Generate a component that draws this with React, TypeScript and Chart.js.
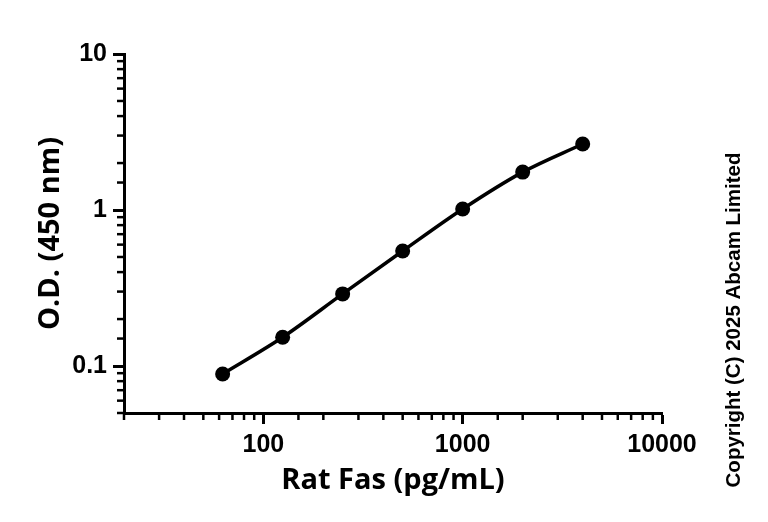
import React, { useEffect, useRef } from 'react';
import { Chart, registerables } from 'chart.js';

Chart.register(...registerables);

// ---- data ----
const concentrations = [62.5, 125, 250, 500, 1000, 2000, 4000];
const odValues = [0.089, 0.153, 0.29, 0.546, 1.015, 1.75, 2.65];
const xTickLabels = ['100', '1000', '10000'];
const yTickLabels = ['0.1', '1', '10'];
const xTitle = 'Rat Fas (pg/mL)';
const yTitle = 'O.D. (450 nm)';
const copyrightText = 'Copyright (C) 2025 Abcam Limited';

const isDecade = (v: number) => Math.abs(Math.log10(v) - Math.round(Math.log10(v))) < 1e-6;
const labelFor = (labels: string[], v: number) =>
  labels.find((l) => Math.abs(Number(l) - v) < 1e-9 * Math.max(1, v)) ?? '';

const TICK_FONT = { family: "'Liberation Sans', Arial, sans-serif", size: 25, weight: 'bold' as const };
const TITLE_FONT = "bold 29px 'Open Sans', 'Liberation Sans', sans-serif";

const minorTicksPlugin = {
  id: 'minorTicks',
  afterDraw(chart: any) {
    const ctx = chart.ctx;
    ctx.save();
    ctx.strokeStyle = '#000';
    ctx.lineWidth = 2.5;
    const xs = chart.scales.x;
    const ys = chart.scales.y;
    xs.ticks.forEach((t: any) => {
      if (isDecade(t.value)) return;
      const px = xs.getPixelForValue(t.value);
      ctx.beginPath();
      ctx.moveTo(px, xs.top);
      ctx.lineTo(px, xs.top + 7);
      ctx.stroke();
    });
    ys.ticks.forEach((t: any) => {
      if (isDecade(t.value)) return;
      const py = ys.getPixelForValue(t.value);
      ctx.beginPath();
      ctx.moveTo(ys.right, py);
      ctx.lineTo(ys.right - 7, py);
      ctx.stroke();
    });
    ctx.restore();
  },
};

const textPlugin = {
  id: 'texts',
  afterDraw(chart: any) {
    const ctx = chart.ctx;
    const area = chart.chartArea;
    ctx.save();
    ctx.fillStyle = '#000';
    ctx.textAlign = 'center';
    ctx.textBaseline = 'middle';
    ctx.font = TITLE_FONT;
    ctx.fillText(xTitle, (area.left + area.right) / 2, 481);
    ctx.save();
    ctx.translate(51, (area.top + area.bottom) / 2);
    ctx.rotate(-Math.PI / 2);
    ctx.fillText(yTitle, 0, 0);
    ctx.restore();
    ctx.save();
    ctx.font = "bold 20.5px 'Liberation Sans', Arial, sans-serif";
    ctx.translate(734, 320);
    ctx.rotate(-Math.PI / 2);
    ctx.fillText(copyrightText, 0, 0);
    ctx.restore();
    ctx.restore();
  },
};

export default function App() {
  const canvasRef = useRef<HTMLCanvasElement | null>(null);

  useEffect(() => {
    if (!canvasRef.current) return;
    const chart = new Chart(canvasRef.current, {
      type: 'line',
      data: {
        datasets: [
          {
            data: concentrations.map((c, i) => ({ x: c, y: odValues[i] })),
            borderColor: '#000',
            backgroundColor: '#000',
            borderWidth: 3.5,
            pointRadius: 7.5,
            pointBackgroundColor: '#000',
            pointBorderWidth: 0,
            cubicInterpolationMode: 'monotone',
            fill: false,
          },
        ],
      },
      options: {
        animation: false,
        responsive: false,
        devicePixelRatio: 1,
        layout: { padding: { left: 0, top: 54, right: 106, bottom: 0 } },
        plugins: { legend: { display: false }, tooltip: { enabled: false } },
        scales: {
          x: {
            type: 'logarithmic',
            min: 20,
            max: 10000,
            afterFit: (s: any) => {
              s.height = 109;
            },
            border: { display: true, color: '#000', width: 3 },
            grid: {
              drawOnChartArea: false,
              drawTicks: true,
              tickLength: 11,
              tickWidth: 3,
              tickColor: (c: any) => (c.tick && isDecade(c.tick.value) ? '#000' : 'rgba(0,0,0,0)'),
            },
            ticks: {
              autoSkip: false,
              maxRotation: 0,
              color: '#000',
              padding: 6,
              font: TICK_FONT,
              callback: (v: any) => (isDecade(Number(v)) ? labelFor(xTickLabels, Number(v)) : ''),
            },
          },
          y: {
            type: 'logarithmic',
            min: 0.05,
            max: 10,
            afterFit: (s: any) => {
              s.width = 124;
            },
            border: { display: true, color: '#000', width: 3 },
            grid: {
              drawOnChartArea: false,
              drawTicks: true,
              tickLength: 11,
              tickWidth: 3,
              tickColor: (c: any) => (c.tick && isDecade(c.tick.value) ? '#000' : 'rgba(0,0,0,0)'),
            },
            ticks: {
              autoSkip: false,
              color: '#000',
              padding: 6,
              font: TICK_FONT,
              callback: (v: any) => (isDecade(Number(v)) ? labelFor(yTickLabels, Number(v)) : ''),
            },
          },
        },
      },
      plugins: [minorTicksPlugin, textPlugin],
    });
    return () => chart.destroy();
  }, []);

  return (
    <div style={{ position: 'fixed', left: 0, top: 0, width: 768, height: 522, background: '#fff' }}>
      <canvas ref={canvasRef} width={768} height={522} />
    </div>
  );
}
